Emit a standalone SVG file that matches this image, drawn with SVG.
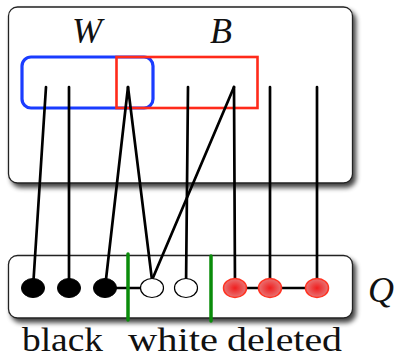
<svg xmlns="http://www.w3.org/2000/svg" width="396" height="359" viewBox="0 0 396 359">
  <style>
    .panel { fill: #ffffff; stroke: #222222; stroke-width: 1.3; }
    .wire { stroke: #000000; stroke-width: 2.7; fill: none; stroke-linecap: round; }
    .label { font-family: "Liberation Serif", "DejaVu Serif", serif; font-size: 36px; fill: #111111; }
    .caption { font-family: "Liberation Serif", "DejaVu Serif", serif; font-size: 34px; fill: #111111; }
    .math { font-style: italic; }
    .black { fill: #000000; stroke: #000000; stroke-width: 1; }
    .white { fill: #ffffff; stroke: #000000; stroke-width: 1.2; }
    .deleted { fill: url(#redFill); stroke: #ff3322; stroke-width: 1.5; }
    .divider { stroke: #0a8c0a; stroke-width: 3.5; stroke-linecap: round; }
  </style>
  <defs>
    <filter id="shadow" x="-10%" y="-10%" width="125%" height="130%">
      <feGaussianBlur in="SourceAlpha" stdDeviation="2.5"/>
      <feOffset dx="3" dy="4" result="blurred"/>
      <feComponentTransfer><feFuncA type="linear" slope="0.75"/></feComponentTransfer>
      <feMerge>
        <feMergeNode/>
        <feMergeNode in="SourceGraphic"/>
      </feMerge>
    </filter>
    <radialGradient id="redFill" cx="50%" cy="50%" r="50%">
      <stop offset="0" stop-color="#f01e1e"/>
      <stop offset="1" stop-color="#e87474"/>
    </radialGradient>
  </defs>

  <!-- upper panel with the W and B sets -->
  <g id="panel-top">
    <rect class="panel" x="8.5" y="7" width="344" height="176" rx="9" filter="url(#shadow)"/>
    <text class="label math" x="87" y="43" text-anchor="middle">W</text>
    <text class="label math" x="221" y="43" text-anchor="middle">B</text>
  </g>

  <!-- lower panel: the queue Q -->
  <g id="panel-queue">
    <rect class="panel" x="8.5" y="255.5" width="344" height="62.5" rx="9" filter="url(#shadow)"/>
    <text class="label math" x="368" y="302">Q</text>
  </g>

  <!-- set outlines -->
  <g id="set-W">
    <rect x="22" y="57" width="131" height="51" rx="9" fill="none" stroke="#1a3cff" stroke-width="3.2"/>
  </g>
  <g id="set-B">
    <rect x="116.5" y="57" width="141" height="51" fill="none" stroke="#ff2a1a" stroke-width="2.6"/>
  </g>

  <!-- connectors -->
  <g id="connectors">
    <line class="wire" x1="46" y1="87" x2="33" y2="288"/>
    <line class="wire" x1="69" y1="87" x2="69" y2="288"/>
    <line class="wire" x1="128" y1="87" x2="105" y2="288"/>
    <line class="wire" x1="128" y1="87" x2="152" y2="280"/>
    <line class="wire" x1="188" y1="87" x2="186" y2="288"/>
    <line class="wire" x1="234" y1="87" x2="152" y2="280"/>
    <line class="wire" x1="234" y1="87" x2="235" y2="288"/>
    <line class="wire" x1="270" y1="87" x2="270" y2="288"/>
    <line class="wire" x1="317" y1="87" x2="317" y2="288"/>
    <line class="wire" x1="105" y1="288" x2="152" y2="288"/>
    <line class="wire" x1="235" y1="288" x2="317" y2="288"/>
  </g>

  <!-- queue entries -->
  <g id="node-black-1"><ellipse class="black" cx="33" cy="288" rx="11.5" ry="9.5"/></g>
  <g id="node-black-2"><ellipse class="black" cx="69" cy="288" rx="11.5" ry="9.5"/></g>
  <g id="node-black-3"><ellipse class="black" cx="105" cy="288" rx="11.5" ry="9.5"/></g>
  <g id="node-white-1"><ellipse class="white" cx="152" cy="288" rx="11.5" ry="9.5"/></g>
  <g id="node-white-2"><ellipse class="white" cx="186" cy="288" rx="11.5" ry="9.5"/></g>
  <g id="node-deleted-1"><ellipse class="deleted" cx="235" cy="288" rx="11.5" ry="9.5" stroke-width="3"/></g>
  <g id="node-deleted-2"><ellipse class="deleted" cx="270" cy="288" rx="11.5" ry="9.5"/></g>
  <g id="node-deleted-3"><ellipse class="deleted" cx="317" cy="288" rx="11.5" ry="9.5"/></g>

  <!-- section dividers -->
  <g id="dividers">
    <line class="divider" x1="128" y1="254" x2="128" y2="320"/>
    <line class="divider" x1="211" y1="256" x2="211" y2="321"/>
  </g>

  <!-- section names -->
  <g id="section-labels">
    <text class="caption" x="22" y="351" textLength="81" lengthAdjust="spacingAndGlyphs">black</text>
    <text class="caption" x="128" y="351" textLength="90" lengthAdjust="spacingAndGlyphs">white</text>
    <text class="caption" x="227" y="351" textLength="115" lengthAdjust="spacingAndGlyphs">deleted</text>
  </g>
</svg>
